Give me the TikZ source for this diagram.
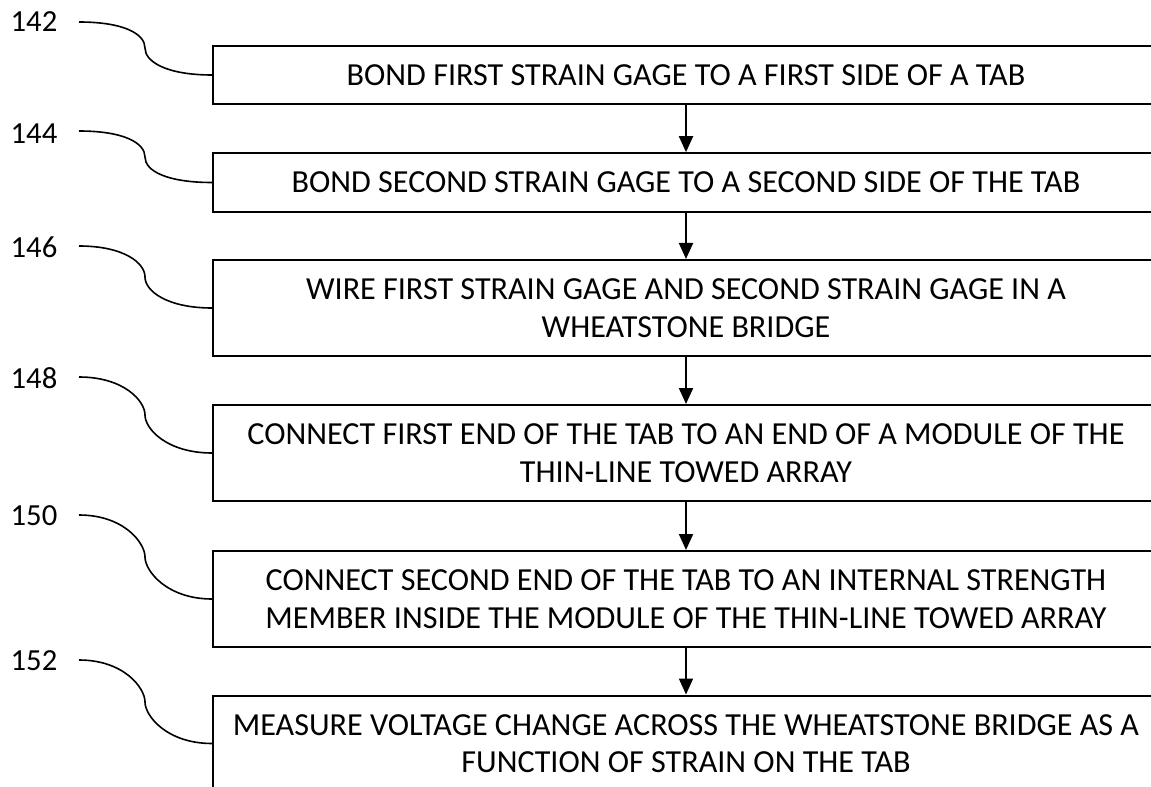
\documentclass[tikz,border=0pt]{standalone}
\usepackage{fontspec}
\setmainfont{Carlito}
\usetikzlibrary{arrows.meta}
\tikzset{
  stepbox/.style={draw=black, line width=1.5pt, minimum width=709.5pt, inner sep=0pt, align=center, font=\fontsize{24.1}{28.2}\selectfont},
  flow/.style={line width=1.5pt, -{Triangle[width=10.5pt,length=12pt]}},
  lead/.style={line width=1.2pt},
  reflabel/.style={font=\fontsize{23}{27}\selectfont, inner sep=0pt}
}
\begin{document}
\begin{tikzpicture}[x=0.75pt,y=-0.75pt]
\useasboundingbox (0,0) rectangle (1151,787);
\clip (0,0) rectangle (1151,787);
\node[stepbox, minimum height=43.5pt] (b1) at (686,75) {BOND FIRST STRAIN GAGE TO A FIRST SIDE OF A TAB};
\node[stepbox, minimum height=44pt] (b2) at (686,182.5) {BOND SECOND STRAIN GAGE TO A SECOND SIDE OF THE TAB};
\node[stepbox, minimum height=72pt] (b3) at (686,308) {WIRE FIRST STRAIN GAGE AND SECOND STRAIN GAGE IN A\\WHEATSTONE BRIDGE};
\node[stepbox, minimum height=72pt] (b4) at (686,453) {CONNECT FIRST END OF THE TAB TO AN END OF A MODULE OF THE\\THIN-LINE TOWED ARRAY};
\node[stepbox, minimum height=72pt] (b5) at (686,599) {CONNECT SECOND END OF THE TAB TO AN INTERNAL STRENGTH\\MEMBER INSIDE THE MODULE OF THE THIN-LINE TOWED ARRAY};
\node[stepbox, minimum height=72pt] (b6) at (686,743.5) {MEASURE VOLTAGE CHANGE ACROSS THE WHEATSTONE BRIDGE AS A\\FUNCTION OF STRAIN ON THE TAB};
\draw[flow] (b1) -- (b2);
\draw[flow] (b2) -- (b3);
\draw[flow] (b3) -- (b4);
\draw[flow] (b4) -- (b5);
\draw[flow] (b5) -- (b6);
\node[reflabel] (l1) at (34,22) {142};
\node[reflabel] (l2) at (34,134) {144};
\node[reflabel] (l3) at (34,247) {146};
\node[reflabel] (l4) at (34,378) {148};
\node[reflabel] (l5) at (34,516) {150};
\node[reflabel] (l6) at (34,661) {152};
\coordinate (s1) at (79,22);  \coordinate (m1) at (145,48);
\coordinate (s2) at (79,131); \coordinate (m2) at (145,157);
\coordinate (s3) at (79,246); \coordinate (m3) at (145,277);
\coordinate (s4) at (79,377); \coordinate (m4) at (145,415);
\coordinate (s5) at (79,515); \coordinate (m5) at (145,557);
\coordinate (s6) at (79,660); \coordinate (m6) at (145,702);
\foreach \i in {1,...,6}{
  \draw[lead] (s\i) .. controls +(45,0) and +(0,-14) .. (m\i) .. controls +(0,14) and +(-45,0) .. (b\i.west);
}
\end{tikzpicture}
\end{document}
